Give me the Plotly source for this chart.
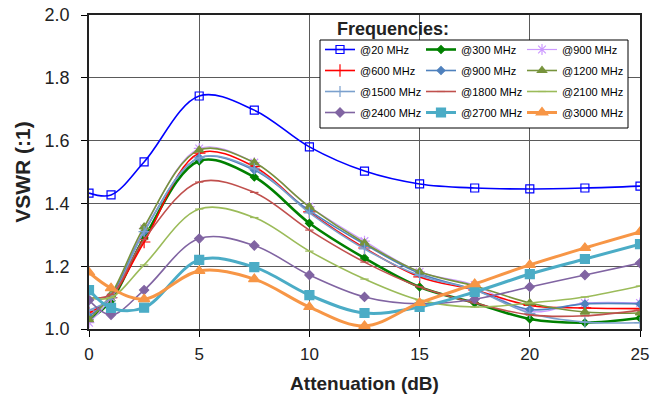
import plotly.graph_objects as go

attenuation_db = [0, 1, 2.5, 5, 7.5, 10, 12.5, 15, 17.5, 20, 22.5, 25]

series_names = ["@20 MHz", "@300 MHz", "@900 MHz", "@600 MHz", "@900 MHz", "@1200 MHz",
                "@1500 MHz", "@1800 MHz", "@2100 MHz", "@2400 MHz", "@2700 MHz", "@3000 MHz"]

vswr_20 = [1.433, 1.427, 1.532, 1.742, 1.697, 1.580, 1.503, 1.462, 1.449, 1.446, 1.449, 1.455]
vswr_300 = [1.030, 1.090, 1.290, 1.535, 1.484, 1.337, 1.226, 1.134, 1.083, 1.032, 1.020, 1.035]
vswr_900a = [1.020, 1.100, 1.320, 1.575, 1.530, 1.390, 1.280, 1.182, 1.140, 1.056, 1.083, 1.083]
vswr_600 = [1.051, 1.100, 1.277, 1.560, 1.517, 1.373, 1.258, 1.166, 1.124, 1.075, 1.067, 1.065]
vswr_900b = [1.040, 1.105, 1.310, 1.545, 1.506, 1.377, 1.270, 1.177, 1.125, 1.062, 1.080, 1.080]
vswr_1200 = [1.030, 1.110, 1.325, 1.570, 1.530, 1.389, 1.274, 1.182, 1.137, 1.083, 1.054, 1.051]
vswr_1500 = [1.060, 1.100, 1.310, 1.545, 1.510, 1.370, 1.255, 1.170, 1.124, 1.050, 1.022, 1.020]
vswr_1800 = [1.100, 1.110, 1.285, 1.468, 1.435, 1.315, 1.213, 1.134, 1.083, 1.045, 1.042, 1.060]
vswr_2100 = [1.100, 1.100, 1.204, 1.382, 1.355, 1.248, 1.159, 1.092, 1.070, 1.083, 1.102, 1.137]
vswr_2400 = [1.092, 1.045, 1.124, 1.288, 1.266, 1.172, 1.102, 1.080, 1.095, 1.134, 1.172, 1.210]
vswr_2700 = [1.124, 1.067, 1.068, 1.220, 1.197, 1.108, 1.051, 1.070, 1.118, 1.175, 1.223, 1.270]
vswr_3000 = [1.180, 1.130, 1.095, 1.185, 1.159, 1.070, 1.010, 1.083, 1.143, 1.204, 1.258, 1.309]

y_ticks = [1.0, 1.2, 1.4, 1.6, 1.8, 2.0]
x_ticks = [0, 5, 10, 15, 20, 25]

all_values = [vswr_20, vswr_300, vswr_900a, vswr_600, vswr_900b, vswr_1200,
              vswr_1500, vswr_1800, vswr_2100, vswr_2400, vswr_2700, vswr_3000]

# style: color, line width, marker symbol, marker size, legend column
styles = [
    ("#0000ff", 1.6, "square-open", 8, "legend"),
    ("#008000", 2.6, "diamond", 6, "legend2"),
    ("#cc99ff", 1.2, "asterisk-open", 9, "legend3"),
    ("#ff0000", 1.6, "cross-thin-open", 9, "legend"),
    ("#4f81bd", 1.6, "diamond", 6, "legend2"),
    ("#77933c", 1.6, "triangle-up", 8, "legend3"),
    ("#7ba0cd", 1.6, "cross-thin-open", 8, "legend"),
    ("#c0504d", 1.6, "line-ew-open", 6, "legend2"),
    ("#9bbb59", 1.6, "line-ew-open", 6, "legend3"),
    ("#8064a2", 1.6, "diamond", 7, "legend"),
    ("#4bacc6", 3.0, "square", 9, "legend2"),
    ("#f79646", 3.0, "triangle-up", 10, "legend3"),
]

fig = go.Figure()
for i, (name, vals, st) in enumerate(zip(series_names, all_values, styles)):
    color, lw, sym, ms, leg = st
    fig.add_trace(go.Scatter(
        x=attenuation_db, y=vals, name=name, mode="lines+markers",
        line=dict(color=color, width=lw, shape="spline", smoothing=1.0),
        marker=dict(symbol=sym, size=ms, color=color, line=dict(color=color, width=1.2)),
        legend=leg, legendgroup="g%d" % i,
    ))

# body margin is removed by post_script; plot area: left 89, top 15
L, T = 89, 15
PW, PH = 551, 314
W, H = 660, 405

def px_x(p):
    return (p - L) / PW

def px_y(p):
    return (T + PH - p) / PH

leg_common = dict(bgcolor="rgba(0,0,0,0)", borderwidth=0, font=dict(family="Liberation Sans, Arial", size=11, color="#000000"),
                  traceorder="grouped", tracegroupgap=2, xanchor="left", yanchor="top", itemwidth=30)

grid_col = "#5a5a5a"

fig.update_layout(
    width=W, height=H,
    margin=dict(l=L, r=W - L - PW, t=T, b=H - T - PH, autoexpand=False),
    paper_bgcolor="white", plot_bgcolor="white",
    font=dict(family="Liberation Sans, Arial", color="#222222"),
    showlegend=True,
    legend=dict(x=px_x(320), y=px_y(35), **leg_common),
    legend2=dict(x=px_x(421), y=px_y(35), **leg_common),
    legend3=dict(x=px_x(522), y=px_y(35), **leg_common),
    xaxis=dict(range=[0, 25], tickvals=x_ticks, showgrid=True, gridcolor=grid_col, gridwidth=1,
               showline=True, mirror=True, linecolor="#222222", linewidth=1.5, ticks="outside", ticklen=6,
               tickcolor="#000000", ticklabeloverflow="allow", automargin=False,
               tickfont=dict(size=17, color="#222222"), zeroline=False, ticklabelstandoff=3,
               title=dict(text="<b>Attenuation (dB)</b>", font=dict(size=19, color="#222222"), standoff=14)),
    yaxis=dict(range=[1.0, 2.0], tickvals=y_ticks, tickformat=".1f", showgrid=True, gridcolor=grid_col, gridwidth=1,
               showline=True, mirror=True, linecolor="#222222", linewidth=1.5, ticks="outside", ticklen=6,
               tickcolor="#000000", ticklabeloverflow="allow", automargin=False,
               tickfont=dict(size=18, color="#222222"), zeroline=False, ticklabelstandoff=8,
               title=dict(text="<b>VSWR (:1)</b>", font=dict(size=21, color="#222222"), standoff=8)),
    shapes=[dict(type="rect", xref="paper", yref="paper", x0=px_x(320), x1=px_x(628), y0=px_y(128), y1=px_y(40),
                 fillcolor="white", line=dict(color="#000000", width=1), layer="above")],
    annotations=[dict(text="<b>Frequencies:</b>", xref="paper", yref="paper", x=px_x(335), y=px_y(41),
                      xanchor="left", yanchor="bottom", showarrow=False,
                      font=dict(size=18, color="#222222", family="Liberation Sans, Arial"))],
)

fig.write_html("out.html", config={"displayModeBar": False},
               post_script="document.body.style.margin='0px';")
